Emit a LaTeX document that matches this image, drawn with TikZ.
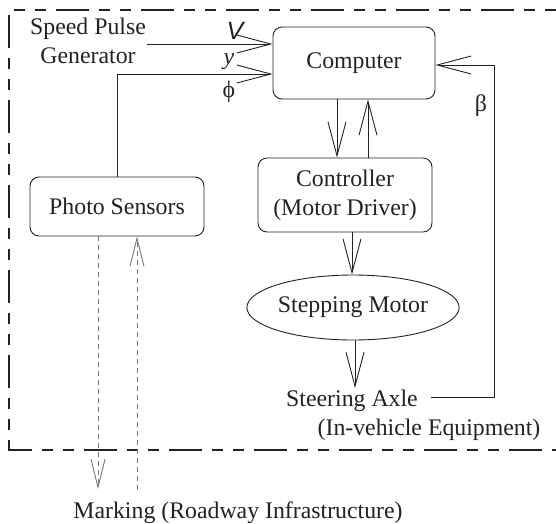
\documentclass[tikz,border=0pt]{standalone}
\usepackage{fontspec}
\setmainfont{Liberation Serif}
\newfontfamily\lsans{Liberation Sans}
\usetikzlibrary{arrows.meta,shapes.geometric}
\definecolor{ink}{HTML}{222222}
\definecolor{dgray}{HTML}{777777}
\tikzset{
  txt/.style={inner sep=0pt, text=ink, font=\fontsize{23.8}{29}\selectfont},
  box/.style={txt, draw=ink, line width=0.9pt, rounded corners=9pt},
  arr/.style={draw=ink, line width=0.9pt, -{Straight Barb[length=34pt,width=18pt,line width=0.9pt]}},
  darr/.style={draw=dgray, line width=0.9pt, dash pattern=on 5pt off 4pt, -{Straight Barb[length=28pt,width=14pt,line width=0.9pt]}},
  border/.style={draw=ink, line width=1.7pt, dash pattern=on 11pt off 10pt on 11pt off 10pt on 33pt off 10pt},
}
\begin{document}
\begin{tikzpicture}[x=1pt,y=-1pt]
\useasboundingbox (0,0) rectangle (556,523);
% border
\draw[border] (556,10) -- (9,10) -- (9,450) -- (556,450);
% nodes
\node[box, minimum width=162pt, minimum height=72pt] (comp) at (354,63) {Computer};
\node[box, minimum width=174pt, minimum height=74pt, align=center] (ctrl) at (345,195) {Controller\\(Motor Driver)};
\node[box, minimum width=174pt, minimum height=59pt] (ps) at (117,206.5) {Photo Sensors};
\node[txt, ellipse, draw=ink, line width=0.9pt, minimum width=210pt, minimum height=65pt] (motor) at (353,307.5) {Stepping Motor};
\node[txt] (sa) at (352,401) {Steering Axle};
\node[txt] (eq) at (429,430) {(In-vehicle Equipment)};
\node[txt] (mk) at (238,513) {Marking (Roadway Infrastructure)};
\node[txt, align=center] (spg) at (88,41) {Speed Pulse\\Generator};
\node[txt, font=\fontsize{25}{29}\lsans\itshape] (lv) at (235,31) {V};
\node[txt, font=\fontsize{23.8}{29}\selectfont\itshape] (ly) at (229,62) {y};
\node[txt] (lphi) at (229,92) {ϕ};
\node[txt] (lbeta) at (481,106) {β};
% coordinates
\coordinate (vstart) at (147,44);
\coordinate (bcorner) at (494,397);
\coordinate (btop) at (494,65);
\coordinate (satip) at (355,388);
\coordinate (mkdown) at (98,489);
\coordinate (mkup) at (137,490);
% connectors
\draw[arr] (vstart) -- (comp.west |- vstart);
\draw[arr] (ps.north) |- (comp.west |- 0,74);
\draw[arr] (337,0 |- comp.south) -- (337,0 |- ctrl.north);
\draw[arr] (368,0 |- ctrl.north) -- (368,0 |- comp.south);
\draw[arr] (352,0 |- ctrl.south) -- (352,0 |- motor.north);
\draw[arr] (355,0 |- motor.south) -- (satip);
\draw[arr] ([xshift=13pt]sa.east |- bcorner) -- (bcorner) -- (btop) -- (comp.east |- btop);
\draw[darr] (98,0 |- ps.south) -- (mkdown);
\draw[darr] (mkup) -- (137,0 |- ps.south);
\end{tikzpicture}
\end{document}
